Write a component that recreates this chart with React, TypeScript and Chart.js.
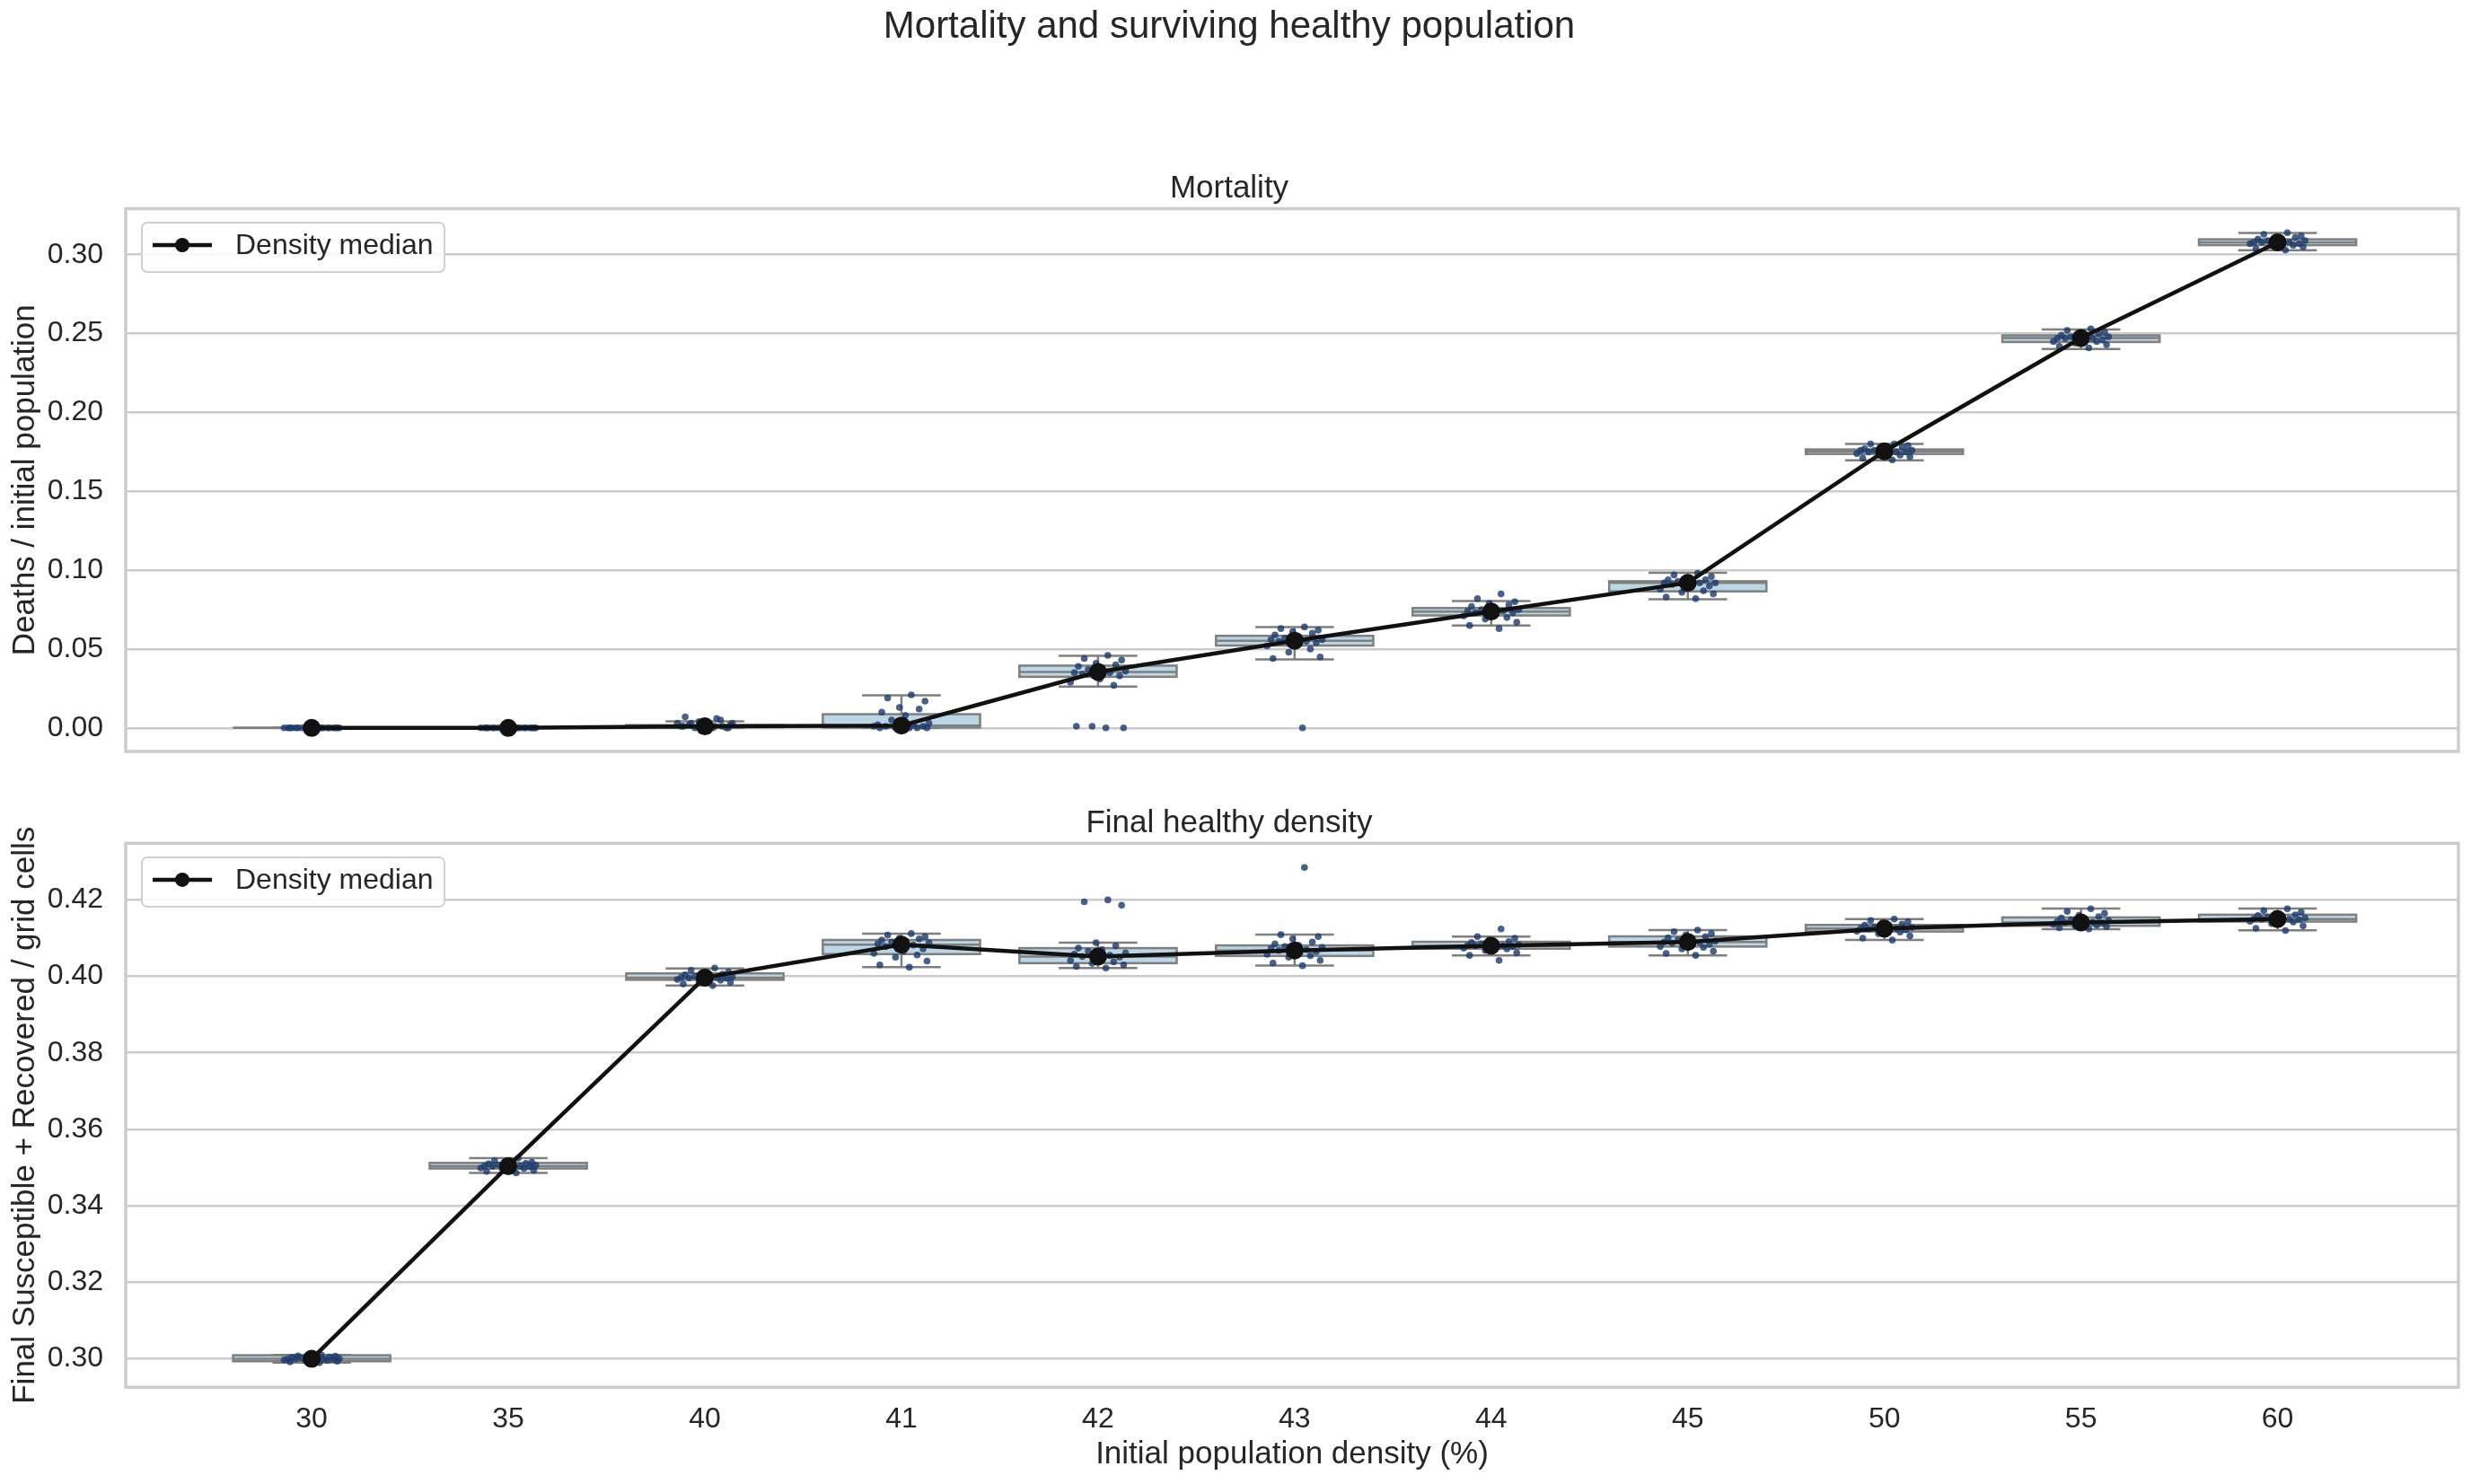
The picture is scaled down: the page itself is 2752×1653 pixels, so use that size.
import React, { useEffect, useRef } from "react";
import { Chart, registerables } from "chart.js";

Chart.register(...registerables);

// ---------- data ----------
const densities = ["30", "35", "40", "41", "42", "43", "44", "45", "50", "55", "60"];

// fixed horizontal jitter pattern (category units) used for the run dots
const jitter = [0.04, -0.11, 0.13, -0.03, 0.08, -0.14, 0.01, 0.11, -0.08, 0.06, -0.12, 0.14, -0.05, 0.02, -0.1, 0.09, -0.01, 0.12, -0.07, 0.05];

const mortalityTicks = [0, 0.05, 0.1, 0.15, 0.2, 0.25, 0.3];
const healthyTicks = [0.3, 0.32, 0.34, 0.36, 0.38, 0.4, 0.42];

const mortalityMedian = [0.0, 0.0, 0.001, 0.0015, 0.0355, 0.0553, 0.0738, 0.092, 0.1754, 0.2472, 0.3079];
const mortalityQ1 = [0.0, 0.0, 0.0004, 0.0002, 0.0324, 0.0522, 0.0713, 0.0866, 0.1737, 0.2447, 0.3061];
const mortalityQ3 = [0.0, 0.0, 0.0018, 0.0087, 0.0395, 0.0584, 0.076, 0.093, 0.1766, 0.2489, 0.3098];
const mortalityLo = [0.0, 0.0, 0.0, 0.0, 0.0262, 0.0435, 0.0649, 0.0816, 0.1697, 0.2403, 0.3029];
const mortalityHi = [0.0, 0.0, 0.0042, 0.0207, 0.0457, 0.0639, 0.0804, 0.0984, 0.1801, 0.2526, 0.3138];
const mortalityRuns: number[][] = [
  [0, 0, 0, 0, 0, 0, 0, 0, 0, 0, 0, 0, 0, 0, 0, 0, 0, 0, 0, 0],
  [0, 0, 0, 0, 0, 0, 0, 0, 0, 0, 0, 0, 0, 0, 0, 0, 0, 0, 0, 0],
  [0.0, 0.001, 0.002, 0.004, 0.005, 0.003, 0.001, 0.0, 0.002, 0.006, 0.001, 0.003, 0.0, 0.002, 0.007, 0.001, 0.002, 0.0, 0.003, 0.001],
  [0, 0, 0, 0, 0, 0.001, 0.001, 0.001, 0.001, 0.002, 0.002, 0.003, 0.005, 0.008, 0.01, 0.012, 0.013, 0.017, 0.019, 0.021],
  [0.0, 0.001, 0.0, 0.001, 0.027, 0.029, 0.031, 0.033, 0.034, 0.035, 0.035, 0.036, 0.037, 0.038, 0.039, 0.04, 0.041, 0.043, 0.044, 0.046],
  [0.0, 0.044, 0.045, 0.048, 0.05, 0.052, 0.053, 0.054, 0.055, 0.055, 0.056, 0.056, 0.057, 0.058, 0.059, 0.06, 0.061, 0.062, 0.063, 0.064],
  [0.063, 0.065, 0.067, 0.069, 0.07, 0.071, 0.072, 0.073, 0.073, 0.074, 0.074, 0.075, 0.075, 0.076, 0.077, 0.078, 0.079, 0.08, 0.082, 0.085],
  [0.082, 0.083, 0.085, 0.086, 0.087, 0.088, 0.089, 0.09, 0.091, 0.092, 0.092, 0.092, 0.093, 0.093, 0.094, 0.094, 0.095, 0.096, 0.097, 0.098],
  [0.17, 0.171, 0.172, 0.173, 0.173, 0.174, 0.174, 0.175, 0.175, 0.175, 0.176, 0.176, 0.176, 0.177, 0.177, 0.178, 0.178, 0.179, 0.18, 0.18],
  [0.241, 0.242, 0.243, 0.244, 0.245, 0.245, 0.246, 0.246, 0.247, 0.247, 0.247, 0.248, 0.248, 0.249, 0.249, 0.25, 0.25, 0.251, 0.252, 0.253],
  [0.303, 0.304, 0.305, 0.306, 0.306, 0.307, 0.307, 0.307, 0.308, 0.308, 0.308, 0.309, 0.309, 0.31, 0.31, 0.311, 0.311, 0.312, 0.313, 0.314],
];

const healthyMedian = [0.3, 0.3504, 0.3997, 0.4083, 0.4052, 0.4068, 0.408, 0.409, 0.4125, 0.4141, 0.415];
const healthyQ1 = [0.29937, 0.34976, 0.39911, 0.40583, 0.40346, 0.40535, 0.40724, 0.4078, 0.41173, 0.41323, 0.41433];
const healthyQ3 = [0.30094, 0.35123, 0.40079, 0.40953, 0.4074, 0.40811, 0.40906, 0.41047, 0.41346, 0.41543, 0.41614];
const healthyLo = [0.299, 0.3486, 0.39764, 0.40244, 0.4022, 0.40283, 0.40551, 0.40551, 0.40953, 0.41236, 0.41205];
const healthyHi = [0.301, 0.3525, 0.40205, 0.41118, 0.40882, 0.41094, 0.4104, 0.41213, 0.41496, 0.41772, 0.41772];
const healthyRuns: number[][] = [
  [0.299, 0.2992, 0.2994, 0.2995, 0.2996, 0.2997, 0.2998, 0.2999, 0.3, 0.3, 0.3, 0.3001, 0.3002, 0.3003, 0.3004, 0.3005, 0.3006, 0.3007, 0.3008, 0.301],
  [0.3486, 0.349, 0.3493, 0.3496, 0.3498, 0.3499, 0.35, 0.3502, 0.3503, 0.3504, 0.3505, 0.3506, 0.3507, 0.3508, 0.351, 0.3511, 0.3512, 0.3514, 0.3518, 0.3525],
  [0.3976, 0.398, 0.3985, 0.3988, 0.399, 0.3992, 0.3994, 0.3995, 0.3996, 0.3997, 0.3998, 0.3999, 0.4, 0.4002, 0.4004, 0.4006, 0.4008, 0.4012, 0.4016, 0.4022],
  [0.4024, 0.403, 0.404, 0.405, 0.4056, 0.406, 0.4066, 0.4072, 0.4078, 0.4082, 0.4085, 0.4088, 0.409, 0.4093, 0.4095, 0.4098, 0.41, 0.4104, 0.4108, 0.4112],
  [0.4022, 0.4026, 0.403, 0.4034, 0.4038, 0.4042, 0.4046, 0.405, 0.4052, 0.4055, 0.4058, 0.4062, 0.4066, 0.407, 0.4074, 0.408, 0.4088, 0.4186, 0.4195, 0.42],
  [0.4028, 0.4035, 0.4042, 0.405, 0.4054, 0.4058, 0.4062, 0.4065, 0.4068, 0.407, 0.4073, 0.4076, 0.4078, 0.4081, 0.4085, 0.409, 0.4098, 0.4104, 0.4109, 0.4285],
  [0.4042, 0.4055, 0.4062, 0.4068, 0.4072, 0.4074, 0.4076, 0.4078, 0.408, 0.408, 0.4081, 0.4083, 0.4085, 0.4087, 0.4089, 0.4091, 0.4095, 0.41, 0.4104, 0.4124],
  [0.4055, 0.406, 0.4066, 0.4072, 0.4076, 0.4078, 0.4081, 0.4084, 0.4087, 0.4089, 0.409, 0.4092, 0.4095, 0.4098, 0.4101, 0.4104, 0.4108, 0.4112, 0.4117, 0.4121],
  [0.4095, 0.41, 0.4106, 0.4112, 0.4116, 0.4118, 0.412, 0.4122, 0.4124, 0.4125, 0.4126, 0.4128, 0.413, 0.4132, 0.4134, 0.4137, 0.414, 0.4143, 0.4146, 0.415],
  [0.4124, 0.4127, 0.413, 0.4132, 0.4134, 0.4136, 0.4138, 0.414, 0.4141, 0.4142, 0.4144, 0.4146, 0.4148, 0.415, 0.4153, 0.4156, 0.416, 0.4165, 0.417, 0.4177],
  [0.412, 0.4126, 0.4132, 0.4138, 0.4142, 0.4144, 0.4146, 0.4148, 0.415, 0.415, 0.4151, 0.4153, 0.4155, 0.4157, 0.4159, 0.4161, 0.4164, 0.4168, 0.4172, 0.4177],
];

// ---------- styles ----------
const FONT = "'Liberation Sans', Arial, 'DejaVu Sans', sans-serif";
const TEXT = "#262626";
const GRID = "#cccccc";
const BOX_FILL = "#bdd6e6";
const BOX_EDGE = "#7f7f7f";
const DOT = "rgba(28,58,108,0.8)";
const LINE = "#111111";

Chart.defaults.font.family = FONT;
Chart.defaults.color = TEXT;

type Stats = { q1: number[]; q3: number[]; med: number[]; lo: number[]; hi: number[] };

function makeBoxPlugin(stats: Stats) {
  return {
    id: "boxes",
    beforeDatasetsDraw(chart: any) {
      const { ctx, chartArea } = chart;
      const x = chart.scales.x;
      const y = chart.scales.y;
      ctx.save();
      ctx.beginPath();
      ctx.rect(chartArea.left, chartArea.top, chartArea.right - chartArea.left, chartArea.bottom - chartArea.top);
      ctx.clip();
      const seg = (x1: number, y1: number, x2: number, y2: number) => {
        ctx.beginPath();
        ctx.moveTo(x1, y1);
        ctx.lineTo(x2, y2);
        ctx.stroke();
      };
      ctx.strokeStyle = BOX_EDGE;
      ctx.lineWidth = 2.5;
      for (let i = 0; i < stats.med.length; i++) {
        const cx = x.getPixelForValue(i);
        const hw = x.getPixelForValue(i + 0.4) - cx;
        const cw = hw / 2;
        const yq1 = y.getPixelForValue(stats.q1[i]);
        const yq3 = y.getPixelForValue(stats.q3[i]);
        const ym = y.getPixelForValue(stats.med[i]);
        const ylo = y.getPixelForValue(stats.lo[i]);
        const yhi = y.getPixelForValue(stats.hi[i]);
        ctx.fillStyle = BOX_FILL;
        ctx.fillRect(cx - hw, yq3, 2 * hw, yq1 - yq3);
        ctx.strokeRect(cx - hw, yq3, 2 * hw, yq1 - yq3);
        seg(cx - hw, ym, cx + hw, ym);
        seg(cx, yq3, cx, yhi);
        seg(cx, yq1, cx, ylo);
        seg(cx - cw, yhi, cx + cw, yhi);
        seg(cx - cw, ylo, cx + cw, ylo);
      }
      ctx.restore();
    },
  };
}

const framePlugin = {
  id: "frame",
  beforeDatasetsDraw(chart: any) {
    const { ctx, chartArea } = chart;
    ctx.save();
    ctx.strokeStyle = GRID;
    ctx.lineWidth = 3.5;
    ctx.strokeRect(chartArea.left, chartArea.top, chartArea.right - chartArea.left, chartArea.bottom - chartArea.top);
    ctx.restore();
  },
};

const legendPlugin = {
  id: "boxLegend",
  afterDraw(chart: any) {
    const { ctx, chartArea } = chart;
    const ds = chart.data.datasets[0];
    const bx = chartArea.left + 18;
    const by = chartArea.top + 15.5;
    const bw = 337;
    const bh = 55;
    ctx.save();
    ctx.beginPath();
    ctx.roundRect(bx, by, bw, bh, 6);
    ctx.fillStyle = "rgba(255,255,255,0.85)";
    ctx.fill();
    ctx.strokeStyle = "#d0d0d0";
    ctx.lineWidth = 2;
    ctx.stroke();
    const cy = by + 25;
    ctx.strokeStyle = ds.borderColor;
    ctx.lineWidth = 4.5;
    ctx.beginPath();
    ctx.moveTo(bx + 12, cy);
    ctx.lineTo(bx + 78, cy);
    ctx.stroke();
    ctx.fillStyle = ds.pointBackgroundColor;
    ctx.beginPath();
    ctx.arc(bx + 45, cy, 8, 0, Math.PI * 2);
    ctx.fill();
    ctx.fillStyle = TEXT;
    ctx.font = `32px ${FONT}`;
    ctx.textBaseline = "middle";
    ctx.textAlign = "left";
    ctx.fillText(ds.label, bx + 104, cy + 1);
    ctx.restore();
  },
};

function buildConfig(opts: {
  runs: number[][];
  stats: Stats;
  ticks: number[];
  yMin: number;
  yMax: number;
  yTitle: string;
  showX: boolean;
  xHeight: number;
  titles: any;
}) {
  const lineData = opts.stats.med.map((v, i) => ({ x: i, y: v }));
  const dotData: { x: number; y: number }[] = [];
  opts.runs.forEach((vals, i) => {
    vals.forEach((v, j) => dotData.push({ x: i + jitter[j % jitter.length], y: v }));
  });
  return {
    type: "scatter",
    data: {
      datasets: [
        {
          label: "Density median",
          data: lineData,
          showLine: true,
          borderColor: LINE,
          borderWidth: 4.5,
          pointRadius: 10,
          pointBackgroundColor: LINE,
          pointBorderWidth: 0,
          pointBorderColor: LINE,
          tension: 0,
          order: 0,
        },
        {
          label: "runs",
          data: dotData,
          pointRadius: 3.8,
          pointBackgroundColor: DOT,
          backgroundColor: DOT,
          pointBorderWidth: 0,
          borderWidth: 0,
          order: 1,
        },
      ],
    },
    options: {
      responsive: false,
      animation: false,
      devicePixelRatio: 1,
      events: [],
      layout: { padding: { top: 0, right: 14, bottom: 0, left: 0 } },
      plugins: {
        legend: { display: false },
        tooltip: { enabled: false },
        ...opts.titles,
      },
      scales: {
        x: {
          type: "linear",
          min: -0.946,
          max: 10.92,
          grid: { display: false, drawTicks: false },
          border: { display: false },
          afterBuildTicks: (s: any) => {
            s.ticks = densities.map((_, i) => ({ value: i }));
          },
          ticks: {
            display: opts.showX,
            autoSkip: false,
            maxRotation: 0,
            padding: 17,
            font: { size: 32 },
            color: TEXT,
            callback: (v: any) => densities[Math.round(Number(v))],
          },
          title: {
            display: opts.showX,
            text: "Initial population density (%)",
            font: { size: 35 },
            color: TEXT,
            padding: { top: 12, bottom: 12 },
          },
          afterFit: (s: any) => {
            s.height = opts.xHeight;
            s.paddingLeft = 0;
            s.paddingRight = 0;
          },
        },
        y: {
          type: "linear",
          min: opts.yMin,
          max: opts.yMax,
          afterBuildTicks: (s: any) => {
            s.ticks = opts.ticks.map((v) => ({ value: v }));
          },
          ticks: {
            padding: 25,
            font: { size: 32 },
            color: TEXT,
            callback: (v: any) => Number(v).toFixed(2),
          },
          grid: { color: GRID, lineWidth: 2.6, drawTicks: false },
          border: { display: false },
          title: {
            display: true,
            text: opts.yTitle,
            font: { size: 35 },
            color: TEXT,
            padding: { top: 7, bottom: 7 },
          },
          afterFit: (s: any) => {
            s.width = 140;
            s.paddingTop = 0;
            s.paddingBottom = 0;
          },
        },
      },
    },
    plugins: [makeBoxPlugin(opts.stats), framePlugin, legendPlugin],
  };
}

export default function App() {
  const topRef = useRef<HTMLCanvasElement | null>(null);
  const botRef = useRef<HTMLCanvasElement | null>(null);

  useEffect(() => {
    const top = new Chart(
      topRef.current as HTMLCanvasElement,
      buildConfig({
        runs: mortalityRuns,
        stats: { q1: mortalityQ1, q3: mortalityQ3, med: mortalityMedian, lo: mortalityLo, hi: mortalityHi },
        ticks: mortalityTicks,
        yMin: -0.0149,
        yMax: 0.3292,
        yTitle: "Deaths / initial population",
        showX: false,
        xHeight: 23,
        titles: {
          title: {
            display: true,
            text: "Mortality and surviving healthy population",
            font: { size: 42, weight: "normal" },
            color: TEXT,
            padding: { top: 5, bottom: 0 },
          },
          subtitle: {
            display: true,
            text: "Mortality",
            font: { size: 35, weight: "normal" },
            color: TEXT,
            padding: { top: 134, bottom: 1.1 },
          },
        },
      }) as any
    );
    const bot = new Chart(
      botRef.current as HTMLCanvasElement,
      buildConfig({
        runs: healthyRuns,
        stats: { q1: healthyQ1, q3: healthyQ3, med: healthyMedian, lo: healthyLo, hi: healthyHi },
        ticks: healthyTicks,
        yMin: 0.29258,
        yMax: 0.43479,
        yTitle: "Final Susceptible + Recovered / grid cells",
        showX: true,
        xHeight: 107.8,
        titles: {
          title: {
            display: true,
            text: "Final healthy density",
            font: { size: 35, weight: "normal" },
            color: TEXT,
            padding: { top: 26.3, bottom: 1.1 },
          },
        },
      }) as any
    );
    return () => {
      top.destroy();
      bot.destroy();
    };
  }, []);

  return (
    <div style={{ position: "absolute", left: 0, top: 0, width: 2752, height: 1653, background: "#ffffff" }}>
      <canvas ref={topRef} width={2752} height={860} style={{ position: "absolute", left: 0, top: 0, width: 2752, height: 860 }} />
      <canvas ref={botRef} width={2752} height={783} style={{ position: "absolute", left: 0, top: 870, width: 2752, height: 783 }} />
    </div>
  );
}
